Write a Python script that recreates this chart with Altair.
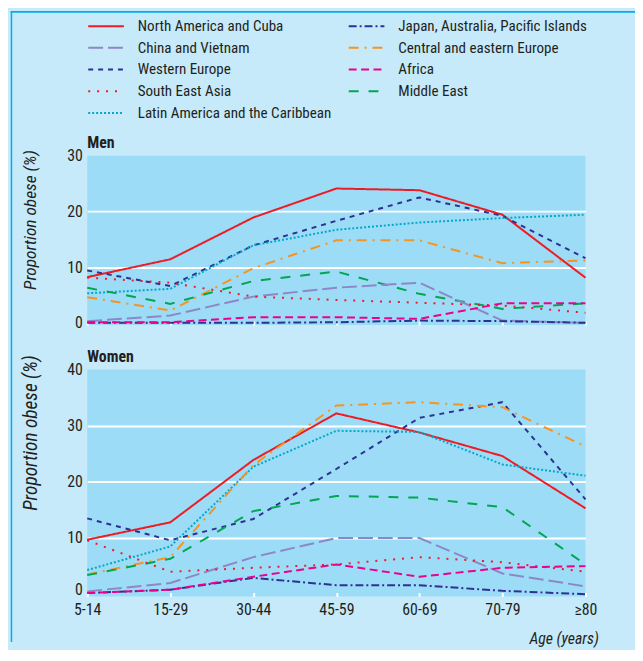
import altair as alt
import pandas as pd

# ---------------- data ----------------
ages = ["5-14", "15-29", "30-44", "45-59", "60-69", "70-79", "≥80"]
regions = [
    "North America and Cuba",
    "Western Europe",
    "Latin America and the Caribbean",
    "Central and eastern Europe",
    "Middle East",
    "China and Vietnam",
    "South East Asia",
    "Japan, Australia, Pacific Islands",
    "Africa",
]

men_na = [8.2, 11.4, 18.9, 24.1, 23.8, 19.4, 8.1]
men_we = [9.4, 6.6, 13.9, 18.3, 22.5, 19.2, 11.6]
men_la = [5.3, 6.1, 13.9, 16.7, 18.0, 18.8, 19.4]
men_cee = [4.6, 2.2, 9.8, 14.8, 14.8, 10.7, 11.2]
men_me = [6.3, 3.4, 7.5, 9.2, 5.2, 2.5, 3.5]
men_cv = [0.3, 1.3, 4.7, 6.3, 7.2, 0.4, 0.0]
men_sea = [8.1, 7.2, 4.7, 4.1, 3.6, 3.1, 1.8]
men_jp = [0.0, 0.0, 0.0, 0.1, 0.4, 0.3, 0.0]
men_af = [0.1, 0.1, 1.0, 1.0, 0.7, 3.5, 3.5]

women_na = [9.7, 12.8, 23.9, 32.2, 28.8, 24.6, 15.3]
women_we = [13.5, 9.6, 13.4, 22.3, 31.4, 34.2, 16.9]
women_la = [4.3, 8.5, 22.7, 29.1, 28.9, 23.1, 21.1]
women_cee = [3.5, 6.6, 23.0, 33.6, 34.2, 33.3, 26.3]
women_me = [3.4, 6.3, 14.8, 17.5, 17.2, 15.5, 5.3]
women_cv = [0.5, 2.0, 6.6, 10.0, 10.0, 3.7, 1.4]
women_sea = [9.6, 4.0, 4.7, 5.3, 6.6, 5.7, 4.0]
women_jp = [0.2, 0.8, 2.9, 1.6, 1.6, 0.6, 0.0]
women_af = [0.2, 0.8, 3.1, 5.3, 3.1, 4.7, 5.0]

men_table = [men_na, men_we, men_la, men_cee, men_me, men_cv, men_sea, men_jp, men_af]
women_table = [women_na, women_we, women_la, women_cee, women_me, women_cv, women_sea, women_jp, women_af]

rows = []
for sex, table in (("Men", men_table), ("Women", women_table)):
    for reg, vals in zip(regions, table):
        for a, v in zip(ages, vals):
            rows.append({"sex": sex, "region": reg, "age": a, "value": v})
df = pd.DataFrame(rows)

# ---------------- styles ----------------
FONT = "Liberation Sans Narrow, Roboto Condensed, DejaVu Sans Condensed, sans-serif"
TXT = "#231f20"
BG = "#c6eafa"
PLOT_BG = "#9cdcf7"
BORDER = "#00aeef"

colors = ["#ed1c24", "#2e3192", "#00a9c9", "#f7941d", "#00a651",
          "#8e87c6", "#ed1c24", "#2e3192", "#ec008c"]
dashes = [[1, 0], [5, 5], [2, 2], [10, 6, 2, 6], [10, 10],
          [15, 5], [2, 7], [8, 3, 2, 3], [8, 4.5]]

order_idx = [0, 5, 1, 6, 2, 7, 3, 8, 4]  # row-major order for a 2-column legend
dom = [regions[i] for i in order_idx]
col_range = [colors[i] for i in order_idx]
dash_range = [dashes[i] for i in order_idx]

legend = alt.Legend(
    title=None, orient="none", legendX=0, legendY=-139, direction="vertical",
    columns=2, symbolType="stroke", symbolSize=1296, symbolStrokeWidth=2,
    clipHeight=16, rowPadding=5, columnPadding=16, labelOffset=13,
    labelFontSize=15.2, labelFont=FONT, labelColor=TXT, padding=0, labelLimit=400,
)

one_row = pd.DataFrame({"k": [0]})


def panel(sex, ymax, height, show_legend, ytitle_size, ytitle_y):
    data = df[df["sex"] == sex]
    if sex == "Women":
        xaxis = alt.Axis(
            title="Age (years)", labels=True, labelAngle=0, labelFontSize=16,
            labelPadding=5, domain=False, ticks=True, tickColor="white",
            tickSize=4, tickWidth=2, offset=-4, grid=False,
            titleFontStyle="italic", titleFontWeight="normal", titleFontSize=16,
            titleX=516, titleY=47, titleAlign="right", titleBaseline="middle",
        )
        label_baseline = {"condition": {"test": "datum.value === 0", "value": "alphabetic"}, "value": "middle"}
    else:
        xaxis = alt.Axis(
            title=None, labels=False, domain=False, ticks=True, tickColor="white",
            tickSize=4, tickWidth=2, offset=-4, grid=False,
        )
        label_baseline = "middle"
    yvals = list(range(0, ymax + 1, 10))
    yaxis = alt.Axis(
        values=yvals, title="Proportion obese (%)", titleFontStyle="italic",
        titleFontWeight="normal", titleFontSize=ytitle_size, titleAngle=270,
        titleX=-57, titleY=ytitle_y, titleAlign="right", titleBaseline="middle",
        labelFontSize=16, labelPadding=5, labelBaseline=label_baseline,
        ticks=False, domain=False,
        grid=True, gridColor="white", gridWidth=2,
        gridOpacity={"condition": {"test": f"datum.value <= 0 || datum.value >= {ymax}", "value": 0}, "value": 1},
    )
    leg = legend if show_legend else None
    lines = alt.Chart(data).mark_line(strokeWidth=2).encode(
        x=alt.X("age:O", sort=ages, scale=alt.Scale(type="point", padding=0, domain=ages), axis=xaxis),
        y=alt.Y("value:Q", scale=alt.Scale(domain=[-0.4, ymax], nice=False, zero=False), axis=yaxis),
        color=alt.Color("region:N", scale=alt.Scale(domain=dom, range=col_range), legend=leg),
        strokeDash=alt.StrokeDash("region:N", scale=alt.Scale(domain=dom, range=dash_range), legend=leg),
        detail="region:N",
    )
    label = alt.Chart(one_row).mark_text(
        text=sex, align="left", baseline="alphabetic", fontSize=16,
        fontWeight="bold", font=FONT, color=TXT,
    ).encode(x=alt.value(0), y=alt.value(-8))
    border = alt.Chart(one_row).mark_rect(color=BORDER)
    if sex == "Men":
        top = border.encode(x=alt.value(-77.25), x2=alt.value(553),
                            y=alt.value(-146), y2=alt.value(-144.2))
        left = border.encode(x=alt.value(-77.25), x2=alt.value(-75.75),
                             y=alt.value(-146), y2=alt.value(187))
        layers = [top, left, lines, label]
    else:
        left = border.encode(x=alt.value(-77.25), x2=alt.value(-75.75),
                             y=alt.value(-29), y2=alt.value(275))
        layers = [left, lines, label]
    return alt.layer(*layers).properties(width=503, height=height)


men = panel("Men", 30, 171, True, 17.5, -6)
women = panel("Women", 40, 229, False, 19.5, -15)

chart = alt.vconcat(men, women, spacing=0).resolve_legend(
    color="independent", strokeDash="independent"
).properties(
    background=BG, padding={"left": 2, "top": 0, "right": 0, "bottom": 0}
).configure(font=FONT).configure_view(fill=PLOT_BG, strokeWidth=0).configure_axis(
    labelFont=FONT, titleFont=FONT, labelColor=TXT, titleColor=TXT
)

chart.save("out.html", embed_options={"renderer": "svg", "actions": False})
